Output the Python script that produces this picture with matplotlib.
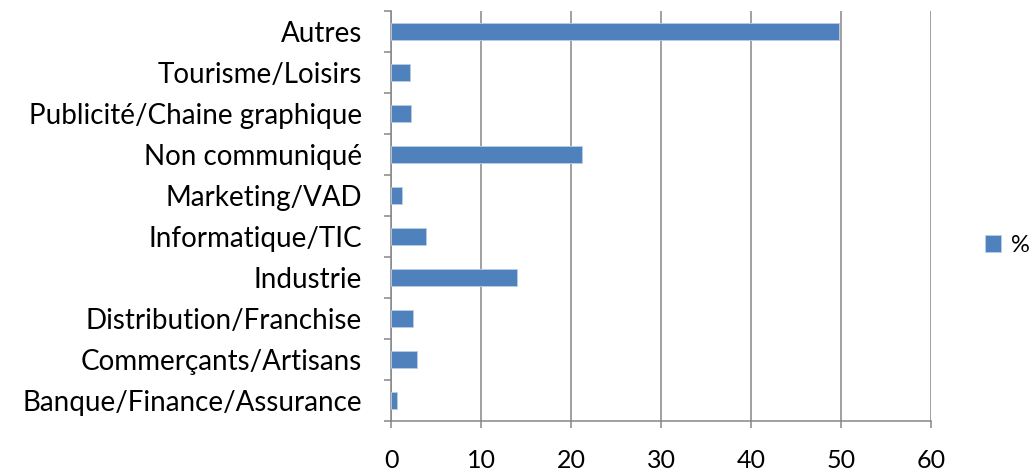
import matplotlib.pyplot as plt
import numpy as np

plt.rcParams['font.family'] = ['Lato', 'DejaVu Sans']

categories = ['Banque/Finance/Assurance', 'Commerçants/Artisans', 'Distribution/Franchise',
              'Industrie', 'Informatique/TIC', 'Marketing/VAD', 'Non communiqué',
              'Publicité/Chaine graphique', 'Tourisme/Loisirs', 'Autres']
values = [0.6, 2.9, 2.4, 14.0, 3.9, 1.2, 21.2, 2.2, 2.1, 49.8]
xticks = [0, 10, 20, 30, 40, 50, 60]

grey = '#868686'
fig = plt.figure(figsize=(10.32, 4.74), dpi=100)
ax = fig.add_axes([0.379, 0.112, 0.523, 0.865])

y = np.arange(len(categories))
ax.barh(y, values, height=0.4, color='#4F81BD', edgecolor='#B9CDE5', linewidth=0.6,
        label='%', zorder=3)

ax.set_xlim(0, 60)
ax.set_ylim(-0.5, len(categories) - 0.5)
ax.set_xticks(xticks)
ax.set_xticklabels([str(t) for t in xticks], fontsize=18)
ax.set_yticks(y)
ax.set_yticklabels(categories, fontsize=20)
ax.set_yticks(np.arange(-0.5, len(categories)), minor=True)

ax.tick_params(axis='y', which='major', length=0, pad=21)
ax.tick_params(axis='y', which='minor', length=5, color=grey, width=1.1)
ax.tick_params(axis='x', length=5, color=grey, width=1.1, pad=15)

ax.grid(axis='x', color=grey, linewidth=1.1, zorder=0)
for s in ['top', 'right']:
    ax.spines[s].set_visible(False)
for s in ['left', 'bottom']:
    ax.spines[s].set_color(grey)
    ax.spines[s].set_linewidth(1.1)

fig.legend(loc='center left', bbox_to_anchor=(0.954, 0.483), frameon=False,
           borderpad=0, borderaxespad=0, fontsize=17, handlelength=0.7,
           handleheight=0.7, handletextpad=0.4)

fig.savefig('out.png', dpi=100)
